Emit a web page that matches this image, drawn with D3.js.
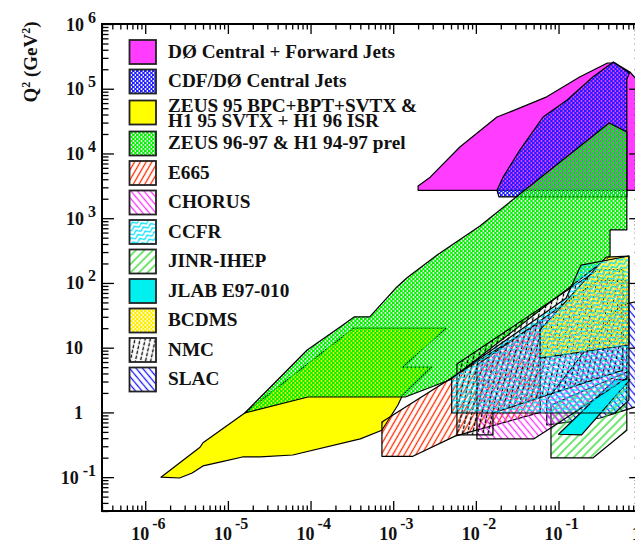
<!DOCTYPE html>
<meta charset="utf-8">
<html>
<head>
<script src="https://d3js.org/d3.v7.min.js"></script>
<style>
  body { margin: 0; background: #fff; }
  text { font-family: "Liberation Serif", "Times New Roman", serif; font-weight: bold; fill: #111; }
</style>
</head>
<body>
<div id="kin"></div>
<script>
// kinematic regions, each one a polygon of [x, Q2] points
const d0Jets = [[2.0e-3, 2700], [2.0e-3, 3150], [2.8e-3, 4300], [6.4e-3, 12600], [0.018, 36600], [0.026, 44000],
  [0.072, 75000], [0.18, 152000], [0.39, 250000], [0.48, 250000], [0.73, 182000], [1.0, 115000], [1.0, 2700]];
const cdfD0Jets = [[0.018, 2700], [0.019, 2130], [0.67, 2130], [0.67, 140000], [0.72, 175000], [0.46, 259000],
  [0.26, 152000], [0.127, 67000], [0.065, 36600], [0.034, 11300], [0.0213, 4300]];
const zeusH1Low = [[1.55e-6, 0.1], [4.6e-6, 0.29], [5.0e-6, 0.34], [1.6e-5, 0.98], [3.3e-4, 20], [4.35e-3, 20],
  [1.3e-3, 5.0], [2.9e-3, 5.0], [1.3e-3, 1.86], [1.14e-3, 1.3], [7.3e-4, 0.53], [4.0e-4, 0.39], [6.1e-5, 0.22],
  [2.45e-5, 0.205], [1.5e-5, 0.205], [8.0e-6, 0.171], [5.0e-6, 0.149], [3.7e-6, 0.116], [2.6e-6, 0.097]];
const zeusH1 = [[1.6e-5, 0.98], [9.3e-5, 1.73], [1.4e-3, 1.73], [4.9e-3, 3.2], [0.42, 260], [0.42, 660], [0.67, 660],
  [0.67, 21500], [0.41, 29600], [0.0112, 760], [3.4e-3, 270], [1.47e-3, 120], [1.1e-3, 86], [5.2e-4, 30],
  [3.4e-4, 30], [2.3e-4, 21], [9.1e-5, 9.2], [3.0e-5, 2.2]];
const e665 = [[7.3e-4, 0.71], [0.06, 25], [0.06, 1.0], [5.6e-3, 0.43], [1.73e-3, 0.21], [7.3e-4, 0.21]];
const slac = [[0.072, 0.64], [0.32, 0.82], [1.0, 1.3], [1.0, 54], [0.56, 45], [0.072, 1.55]];
const jinr = [[0.081, 1.3], [0.081, 0.198], [0.26, 0.198], [0.67, 0.53], [0.67, 4.2]];
const jlab = [[0.1, 0.46], [0.19, 0.45], [0.73, 3.2], [0.48, 3.2]];
const chorus = [[0.0103, 0.39], [0.05, 0.39], [0.083, 0.59], [0.67, 3.4], [0.67, 110], [0.3, 110], [0.0103, 5.4]];
const nmc = [[5.9e-3, 0.45], [5.9e-3, 5.6], [0.3, 160], [0.6, 160], [0.6, 4.5], [0.0161, 0.98], [0.0161, 0.45]];
const bcdms = [[0.06, 19], [0.375, 250], [0.71, 260], [0.71, 11], [0.06, 6.9]];
const ccfr = [[5.1e-3, 0.98], [5.1e-3, 3.4], [0.123, 58], [0.187, 189], [0.71, 261], [0.71, 1.55], [0.48, 0.98]];

const legendLabels = ["DØ Central + Forward Jets", "CDF/DØ Central Jets",
  ["ZEUS 95 BPC+BPT+SVTX &", "H1 95 SVTX + H1 96 ISR"], "ZEUS 96-97 & H1 94-97 prel",
  "E665", "CHORUS", "CCFR", "JINR-IHEP", "JLAB E97-010", "BCDMS", "NMC", "SLAC"];

const xTicks = [1e-6, 1e-5, 1e-4, 1e-3, 1e-2, 1e-1, 1];
const xTickLabels = [["10", "-6"], ["10", "-5"], ["10", "-4"], ["10", "-3"], ["10", "-2"], ["10", "-1"], ["1", ""]];
const yTicks = [1e-1, 1, 10, 1e2, 1e3, 1e4, 1e5, 1e6];
const yTickLabels = [["10", "-1"], ["1", ""], ["10", ""], ["10", "2"], ["10", "3"], ["10", "4"], ["10", "5"], ["10", "6"]];

// frame of the plot (right side runs just past the window)
const fLeft = 102, fRight = 641.2, fTop = 24, fBottom = 511;

const svg = d3.select("#kin").append("svg")
  .attr("width", 635)
  .attr("height", 547);

const x = d3.scaleLog().domain([3e-7, 1]).range([fLeft, fRight]);
const y = d3.scaleLog().domain([0.03, 1e6]).range([fBottom, fTop]);

const defs = svg.append("defs");
defs.append("clipPath").attr("id", "plotArea")
  .append("rect").attr("x", fLeft).attr("y", fTop).attr("width", fRight - fLeft).attr("height", fBottom - fTop);

// fill patterns
function hatch(id, color, angle, gap, dash) {
  const p = defs.append("pattern").attr("id", id)
    .attr("patternUnits", "userSpaceOnUse")
    .attr("width", gap).attr("height", gap)
    .attr("patternTransform", `rotate(${angle})`);
  p.append("line")
    .attr("x1", gap / 2).attr("y1", -1).attr("x2", gap / 2).attr("y2", gap + 1)
    .attr("stroke", color).attr("stroke-width", 1.3)
    .attr("stroke-dasharray", dash || null);
}
function dots(id, color) {
  const p = defs.append("pattern").attr("id", id)
    .attr("patternUnits", "userSpaceOnUse")
    .attr("width", 4).attr("height", 4);
  p.append("path")
    .attr("d", "M0,0H4V4H0Z M0.5,1A0.95,0.95 0 1,0 2.4,1A0.95,0.95 0 1,0 0.5,1Z M2.5,3A0.95,0.95 0 1,0 4.4,3A0.95,0.95 0 1,0 2.5,3Z")
    .attr("fill-rule", "evenodd")
    .attr("fill", color);
}
dots("cdfDots", "#2020ff");
dots("greenDots", "#08f008");
dots("yellowDots", "#ffee00");
hatch("e665Hatch", "#ff2a00", 30, 5);
hatch("chorusHatch", "#ff30ff", -40, 5);
hatch("jinrHatch", "#22d822", 45, 6);
hatch("nmcHatch", "#000", 12, 5, "4,1.5");
hatch("slacHatch", "#1a1aff", -40, 5);
const wave = defs.append("pattern").attr("id", "ccfrWave")
  .attr("patternUnits", "userSpaceOnUse")
  .attr("width", 8).attr("height", 4.5)
  .attr("patternTransform", "rotate(-25)");
wave.append("path")
  .attr("d", "M0,2.25 C2,0.6 2,0.6 4,2.25 S6,3.9 8,2.25")
  .attr("fill", "none").attr("stroke", "#00e0ff").attr("stroke-width", 1.4);

const fills = ["#ff3cff", "url(#cdfDots)", "#ffff00", "url(#greenDots)", "url(#e665Hatch)", "url(#chorusHatch)",
  "url(#ccfrWave)", "url(#jinrHatch)", "#00f0f0", "url(#yellowDots)", "url(#nmcHatch)", "url(#slacHatch)"];

// regions, back to front
const regions = [
  [d0Jets, fills[0]], [cdfD0Jets, fills[1]], [zeusH1Low, fills[2]], [zeusH1, fills[3]],
  [slac, fills[11]], [jinr, fills[7]], [jlab, fills[8]], [e665, fills[4]], [chorus, fills[5]],
  [nmc, fills[10]], [bcdms, fills[9]], [ccfr, fills[6]]
];

const line = d3.line().x(d => x(d[0])).y(d => y(d[1]));

svg.append("g").attr("clip-path", "url(#plotArea)")
  .selectAll("path")
  .data(regions)
  .join("path")
    .attr("d", d => line(d[0]) + "Z")
    .attr("fill", d => d[1])
    .attr("stroke", "#000")
    .attr("stroke-width", 1.2)
    .attr("stroke-linejoin", "round");

// axes: ticks point into the frame
const xMinor = x.ticks().filter(v => !xTicks.some(t => Math.abs(t - v) / t < 1e-9));
const yMinor = y.ticks().filter(v => !yTicks.some(t => Math.abs(t - v) / t < 1e-9));

function ticks(g, axis, vals, size) {
  g.call(axis.tickValues(vals).tickSize(size).tickFormat(""))
    .call(s => s.select(".domain").remove())
    .call(s => s.selectAll("line").attr("stroke", "#000").attr("stroke-width", 1.3));
}
svg.append("g").attr("transform", `translate(0,${fBottom})`).call(g => ticks(g, d3.axisTop(x), xMinor, 5.5));
svg.append("g").attr("transform", `translate(0,${fBottom})`).call(g => ticks(g, d3.axisTop(x), xTicks, 10));
svg.append("g").attr("transform", `translate(0,${fTop})`).call(g => ticks(g, d3.axisBottom(x), xMinor, 5.5));
svg.append("g").attr("transform", `translate(0,${fTop})`).call(g => ticks(g, d3.axisBottom(x), xTicks, 10));
svg.append("g").attr("transform", `translate(${fLeft},0)`).call(g => ticks(g, d3.axisRight(y), yMinor, 6.5));
svg.append("g").attr("transform", `translate(${fLeft},0)`).call(g => ticks(g, d3.axisRight(y), yTicks, 12));
svg.append("g").attr("transform", `translate(${fRight},0)`).call(g => ticks(g, d3.axisLeft(y), yMinor, 6.5));
svg.append("g").attr("transform", `translate(${fRight},0)`).call(g => ticks(g, d3.axisLeft(y), yTicks, 12));

svg.append("rect")
  .attr("x", fLeft).attr("y", fTop)
  .attr("width", fRight - fLeft).attr("height", fBottom - fTop)
  .attr("fill", "none").attr("stroke", "#000").attr("stroke-width", 2);

// tick labels
svg.append("g").selectAll("text")
  .data(xTicks)
  .join("text")
    .attr("x", (d, i) => x(d) - (xTickLabels[i][0] === "1" ? 9.5 : 14))
    .attr("y", 540)
    .style("font-size", "18px")
    .each(function (d, i) {
      const t = d3.select(this);
      t.append("tspan").text(xTickLabels[i][0]);
      if (xTickLabels[i][1]) t.append("tspan").attr("dx", 3).attr("dy", -11).style("font-size", "16px").text(xTickLabels[i][1]);
    });

svg.append("g").selectAll("text")
  .data(yTicks)
  .join("text")
    .attr("x", (d, i) => yTickLabels[i][1] ? 96 : 83)
    .attr("y", d => y(d) + 6.5)
    .attr("text-anchor", "end")
    .style("font-size", "18px")
    .each(function (d, i) {
      const t = d3.select(this);
      t.append("tspan").text(yTickLabels[i][0]);
      if (yTickLabels[i][1]) t.append("tspan").attr("dx", 4).attr("dy", -8).style("font-size", "16px").text(yTickLabels[i][1]);
    });

// y title
const title = svg.append("text")
  .attr("transform", "translate(37,62) rotate(-90)")
  .attr("text-anchor", "middle")
  .style("font-size", "19px");
title.append("tspan").text("Q");
title.append("tspan").attr("dy", -7).style("font-size", "12px").text("2");
title.append("tspan").attr("dy", 7).text(" (GeV");
title.append("tspan").attr("dy", -7).style("font-size", "12px").text("2");
title.append("tspan").attr("dy", 7).text(")");

// legend
const legend = svg.append("g");
const rowTop = i => 40 + i * 29.5 + (i >= 2 ? 1.5 : 0) + (i >= 3 ? 1.5 : 0);

legend.selectAll("rect")
  .data(legendLabels)
  .join("rect")
    .attr("x", 129.5).attr("y", (d, i) => rowTop(i))
    .attr("width", 26.5).attr("height", 24)
    .attr("fill", (d, i) => fills[i])
    .attr("stroke", "#222").attr("stroke-width", 1.8);

// one text per printed line
const legendLines = legendLabels.flatMap((d, i) => Array.isArray(d)
  ? [[d[0], rowTop(i) + 11.2], [d[1], rowTop(i) + 26.6]]
  : [[d, rowTop(i) + 17.8]]);

legend.selectAll("text")
  .data(legendLines)
  .join("text")
    .attr("transform", d => `translate(168,${d[1]}) scale(1.07,1)`)
    .style("font-size", "18px")
    .text(d => d[0]);
</script>
</body>
</html>
